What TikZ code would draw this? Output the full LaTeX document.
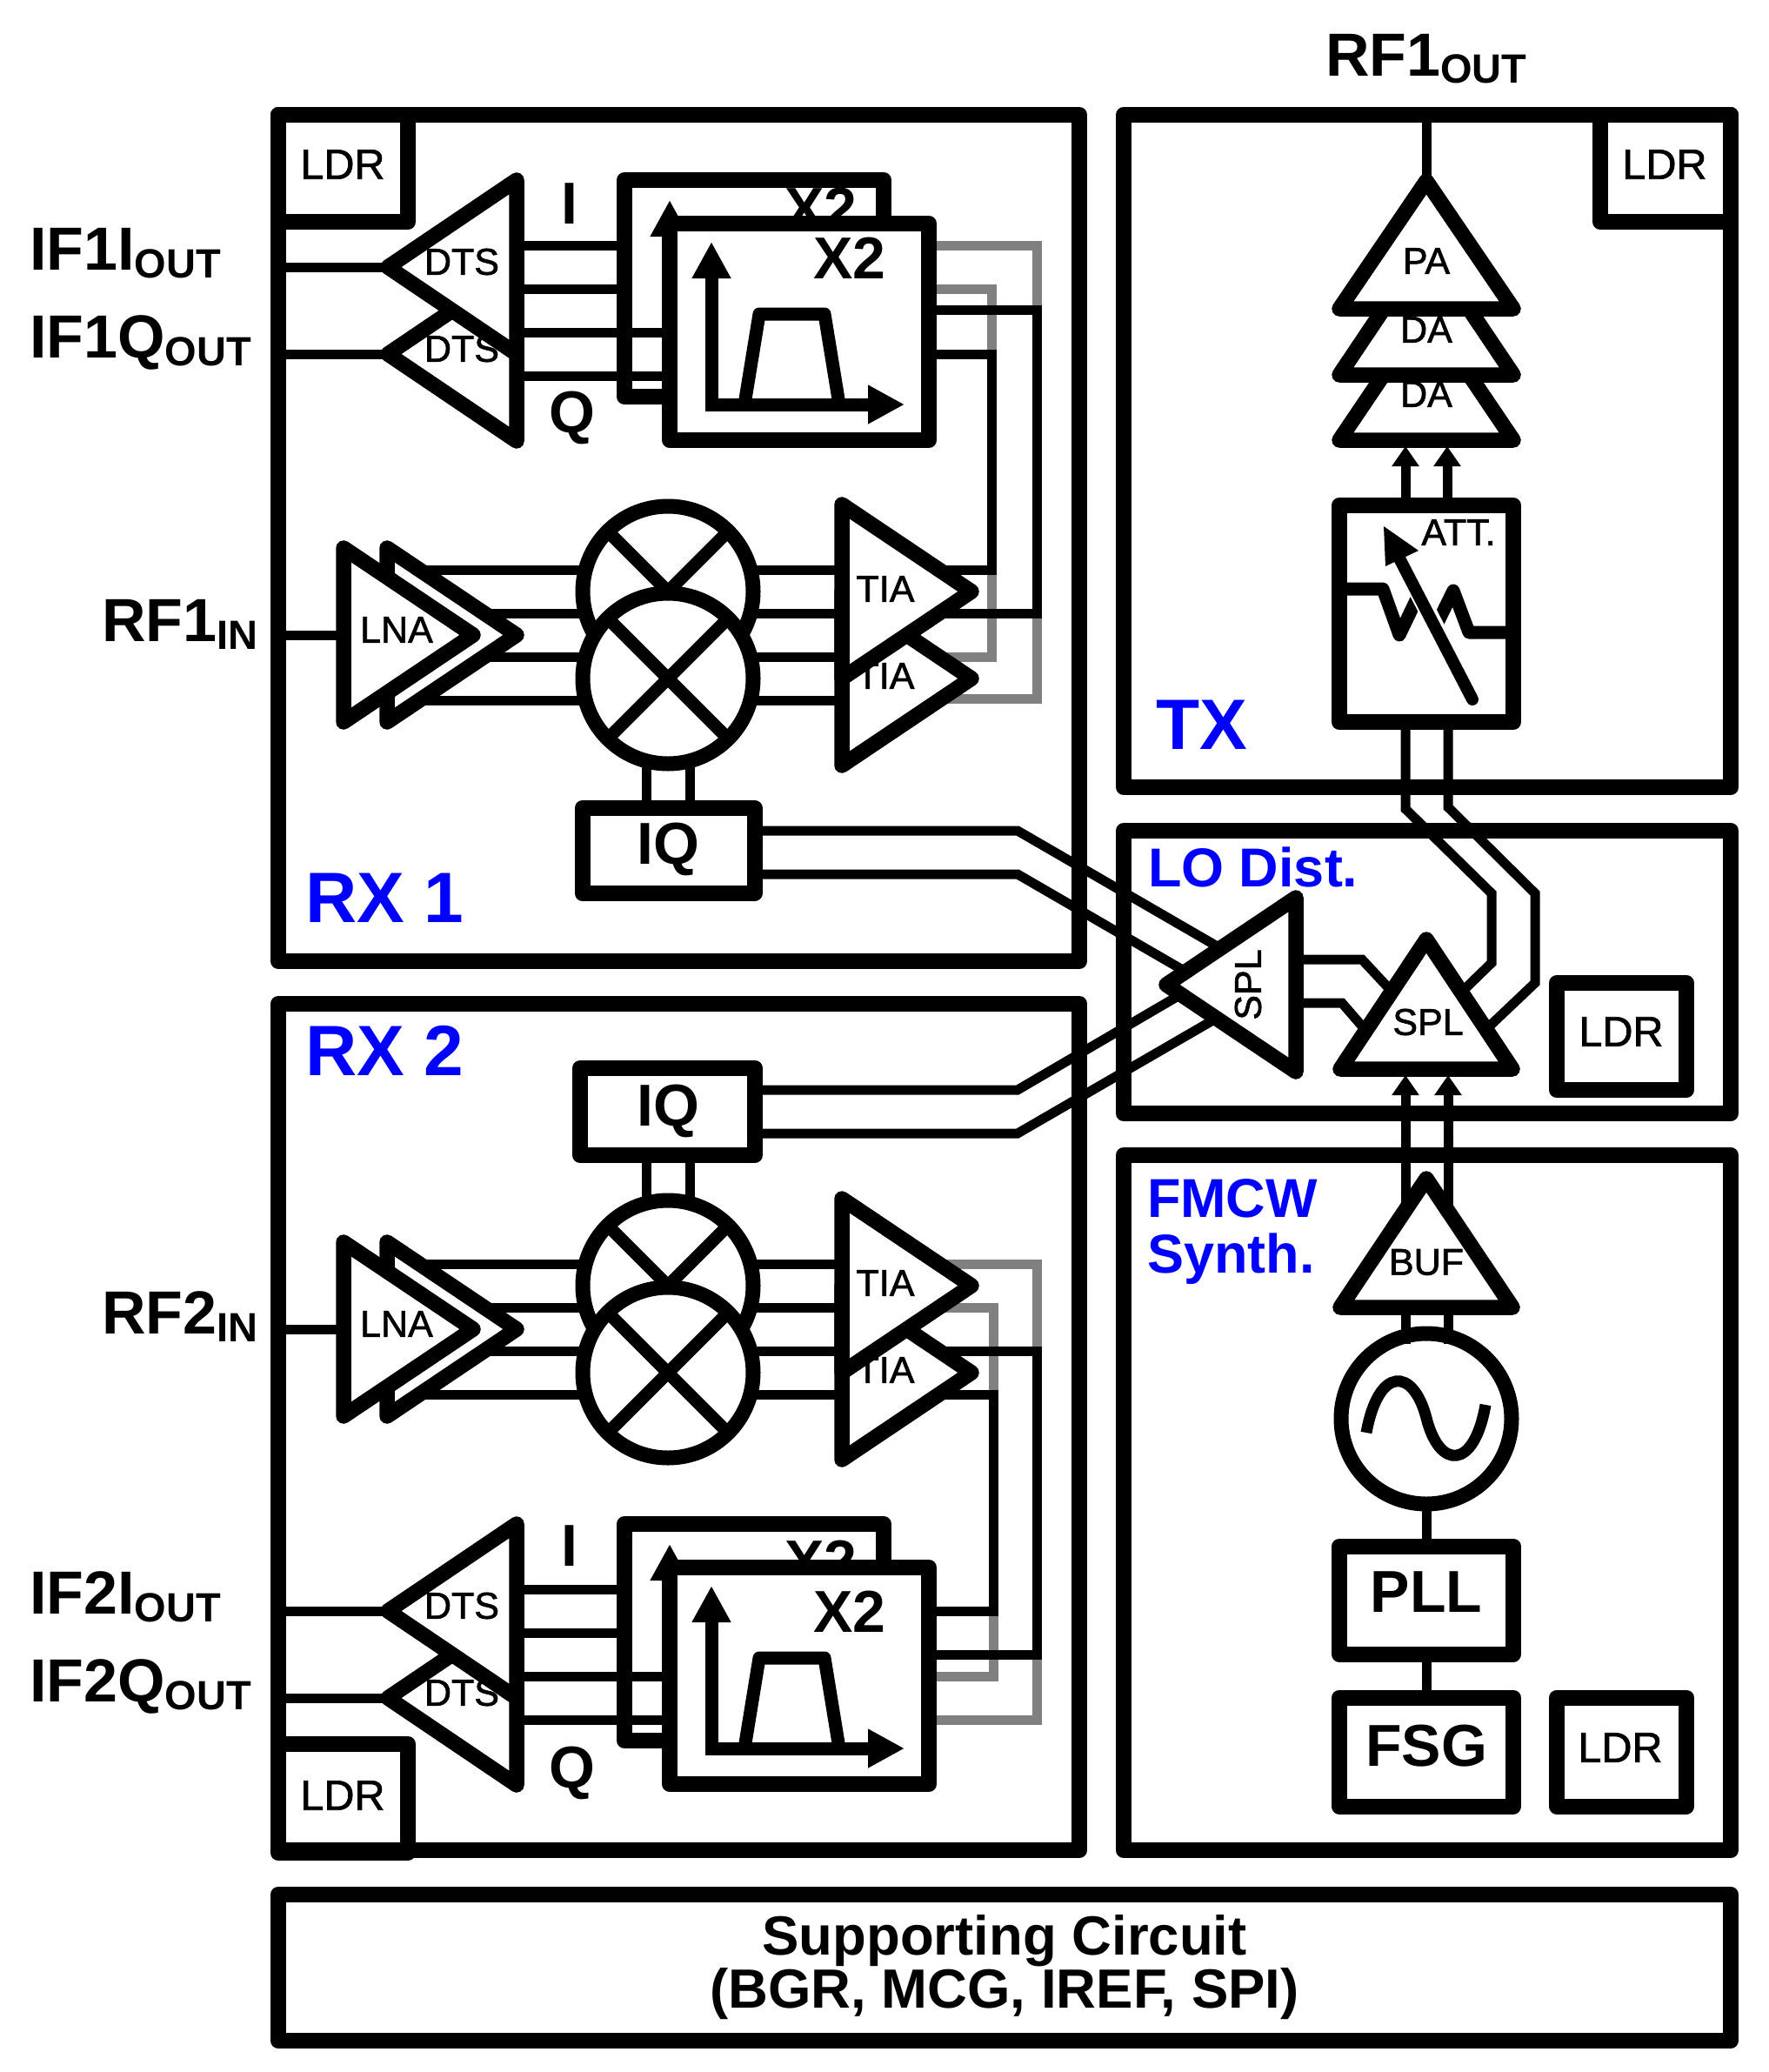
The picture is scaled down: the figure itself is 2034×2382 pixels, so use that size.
\documentclass[tikz,border=0pt]{standalone}
\usepackage{fontspec}
\setmainfont{Liberation Sans}
\newfontfamily\heavyish[FakeBold=1.5]{Liberation Sans}
\usetikzlibrary{arrows.meta,calc}
\newcommand\fs[1]{\fontsize{#1}{#1}\selectfont}
\definecolor{wiregray}{HTML}{808080}
\definecolor{lblue}{HTML}{0000FF}
\tikzset{
  bigbox/.style={draw,rectangle,line width=18pt,line join=round,inner sep=0pt,outer sep=0pt},
  minibox/.style={draw,fill=white,rectangle,line width=18pt,line join=round,inner sep=0pt,outer sep=0pt},
  mixer/.style={draw,fill=white,circle,line width=17pt,minimum size=196pt,inner sep=0pt,outer sep=0pt},
  tri/.style={draw,fill=white,line width=17.5pt,line join=round},
  wire/.style={draw=black,line width=11pt,line join=miter},
  gwire/.style={draw=wiregray,line width=11pt,line join=miter},
  xbar/.style={draw=black,line width=14.5pt},
  lab/.style={inner sep=0pt,outer sep=0pt,font=\heavyish\fs{43}},
  ldrlab/.style={inner sep=0pt,outer sep=0pt,font=\heavyish\fs{48.5}},
  blab/.style={inner sep=0pt,outer sep=0pt,font=\bfseries\fs{68}},
  pinlab/.style={inner sep=0pt,outer sep=0pt,anchor=base west,font=\bfseries\fs{70}},
  bluelab/.style={inner sep=0pt,outer sep=0pt,anchor=base west,text=lblue},
  headed/.style={-{Triangle[length=23pt,width=30pt]}},
  axesbase/.style={draw=black,line width=15pt,line join=miter},
  axes/.style={axesbase,{Triangle[length=42pt,width=42pt]}-{Triangle[length=42pt,width=42pt]}},
  axisup/.style={axesbase,{Triangle[length=42pt,width=42pt]}-},
  passband/.style={draw=black,line width=15pt,line join=round}
}
% one filter pair (back and front box), its DTS pair and all their wires
\newcommand\rxfilter[6]{%
 \begin{scope}[shift={(0,#2)}]
  \coordinate (#1dtsI) at (446,307);
  \coordinate (#1dtsQ) at (446,407);
  \path[wire] (#1dtsI -| #1box.west) -- (#1dtsI);
  \path[wire] (#1dtsQ -| #1box.west) -- (#1dtsQ);
  \coordinate (#1a) at (594,282); \coordinate (#1b) at (594,332);
  \coordinate (#1c) at (594,382); \coordinate (#1d) at (594,432);
  \path[wire] (#1a) -- (718,282);
  \path[wire] (#1b) -- (718,332);
  \node[minibox,minimum width=298pt,minimum height=249pt] (#1back) at (867,331.5) {};
  \node[blab] (#1backx) at (944,#3) {X2};
  \coordinate (#1bt) at (770,230); \coordinate (#1bc) at (770,300);
  \path[axisup] (#1bt) -- (#1bc);
  \path[wire] (#1c) -- (770,382);
  \path[wire] (#1d) -- (770,432);
  \node[minibox,minimum width=298pt,minimum height=249pt] (#1front) at (919,381.5) {};
  \node[blab] (#1frontx) at (977,#4) {X2};
  \coordinate (#1at) at (818,278); \coordinate (#1ac) at (818,465); \coordinate (#1ar) at (1040,465);
  \path[axes] (#1at) -- (#1ac) -- (#1ar);
  \path[passband] (856,465) -- (873,361) -- (948,361) -- (965,465);
  \path[tri] (#1dtsQ) -- (594,307) -- (594,507) -- cycle;
  \node[lab] (#1dq) at (531,401) {DTS};
  \path[tri] (#1dtsI) -- (594,207) -- (594,407) -- cycle;
  \node[lab] (#1di) at (531,301) {DTS};
 \end{scope}
 \node[blab] (#1ilab) at (655,#5) {I};
 \node[blab] (#1qlab) at (658,#6) {Q};
}
% LNA pair, mixer pair and TIA pair of one receiver
\newcommand\rxcore[2]{%
 \begin{scope}[shift={(0,#2)}]
  \coordinate (#1in) at (395,730);
  \path[wire] (#1in -| #1box.west) -- (#1in);
  \foreach \n/\y in {p/655,q/705,r/755,s/805}{
    \coordinate (#1\n L) at (460,\y);
    \coordinate (#1\n R) at (975,\y);
    \path[wire] (#1\n L) -- (#1\n R);
  }
  \path[tri] (445,630) -- (594,730) -- (445,830) -- cycle;
  \path[tri] (395,630) -- (544,730) -- (395,830) -- cycle;
  \node[lab] (#1lna) at (456,724) {LNA};
  \path[tri] (968,680) -- (1117,780) -- (968,880) -- cycle;
  \node[lab] (#1tq) at (1018,777) {TIA};
  \path[tri] (968,580) -- (1117,680) -- (968,780) -- cycle;
  \node[lab] (#1ti) at (1018,677) {TIA};
  \node[mixer] (#1mi) at (768,680) {};
  \path[xbar] (#1mi.45) -- (#1mi.225) (#1mi.135) -- (#1mi.315);
  \node[mixer] (#1mq) at (768,780) {};
  \path[xbar] (#1mq.45) -- (#1mq.225) (#1mq.135) -- (#1mq.315);
 \end{scope}
}
\begin{document}
\begin{tikzpicture}[x=1pt,y=-1pt]
\useasboundingbox (0,0) rectangle (2034,2382);
% outer blocks
\node[bigbox,minimum width=921pt,minimum height=973pt] (rxabox) at (780.5,618.5) {};
\node[bigbox,minimum width=921pt,minimum height=973pt] (rxbbox) at (780.5,1640.5) {};
\node[bigbox,minimum width=698pt,minimum height=773pt] (tx) at (1641,518.5) {};
\node[bigbox,minimum width=698pt,minimum height=325pt] (lo) at (1641,1117.5) {};
\node[bigbox,minimum width=698pt,minimum height=799pt] (fm) at (1641,1727.5) {};
\node[bigbox,minimum width=1670pt,minimum height=168pt] (sup) at (1155,2262) {};
\node[inner sep=0pt,anchor=base,font=\bfseries\fs{63.5}] (supa) at (1155,2247) {Supporting Circuit};
\node[inner sep=0pt,anchor=base,font=\bfseries\fs{63.5}] (supb) at (1155,2308) {(BGR, MCG, IREF, SPI)};
% LDR blocks
\node[minibox,fill=none,minimum width=149pt,minimum height=123pt] (ldra) at (394.5,193.5) {};
\node[ldrlab] (ldrat) at (394,189) {LDR};
\node[minibox,fill=none,minimum width=150pt,minimum height=123pt] (ldrb) at (1915,193.5) {};
\node[ldrlab] (ldrbt) at (1914,189) {LDR};
\node[minibox,minimum width=149pt,minimum height=123pt] (ldrc) at (1864.5,1191.5) {};
\node[ldrlab] (ldrct) at (1864,1186) {LDR};
\node[minibox,minimum width=149pt,minimum height=125pt] (ldrd) at (1864.5,2014) {};
\node[ldrlab] (ldrdt) at (1863,2009) {LDR};
\node[minibox,fill=none,minimum width=149pt,minimum height=125pt] (ldre) at (394.5,2067.5) {};
\node[ldrlab] (ldret) at (394,2064) {LDR};
% gray and black filter outputs, RX 1
\coordinate (ga1) at (1068,282); \coordinate (gb1) at (1192,282); \coordinate (gc1) at (1192,803); \coordinate (gd1) at (1080,803);
\coordinate (ga2) at (1068,332); \coordinate (gb2) at (1140,332); \coordinate (gc2) at (1140,755); \coordinate (gd2) at (1080,755);
\path[gwire] (ga1) -- (gb1) -- (gc1) -- (gd1);
\path[gwire] (ga2) -- (gb2) -- (gc2) -- (gd2);
\coordinate (ka1) at (1068,356); \coordinate (kb1) at (1192,356); \coordinate (kc1) at (1192,705); \coordinate (kd1) at (1080,705);
\coordinate (ka2) at (1068,407); \coordinate (kb2) at (1140,407); \coordinate (kc2) at (1140,655); \coordinate (kd2) at (1080,655);
\path[wire] (ka1) -- (kb1) -- (kc1) -- (kd1);
\path[wire] (ka2) -- (kb2) -- (kc2) -- (kd2);
% gray and black filter outputs, RX 2
\coordinate (ga3) at (1068,1977); \coordinate (gb3) at (1192,1977); \coordinate (gc3) at (1192,1453); \coordinate (gd3) at (1080,1453);
\coordinate (ga4) at (1068,1927); \coordinate (gb4) at (1142,1927); \coordinate (gc4) at (1142,1503); \coordinate (gd4) at (1080,1503);
\path[gwire] (ga3) -- (gb3) -- (gc3) -- (gd3);
\path[gwire] (ga4) -- (gb4) -- (gc4) -- (gd4);
\coordinate (ka3) at (1068,1902); \coordinate (kb3) at (1192,1902); \coordinate (kc3) at (1192,1553); \coordinate (kd3) at (1080,1553);
\coordinate (ka4) at (1068,1852); \coordinate (kb4) at (1142,1852); \coordinate (kc4) at (1142,1603); \coordinate (kd4) at (1080,1603);
\path[wire] (ka3) -- (kb3) -- (kc3) -- (kd3);
\path[wire] (ka4) -- (kb4) -- (kc4) -- (kd4);
% IQ blocks and their links to the mixers
\node[minibox,minimum width=198pt,minimum height=98pt] (iqa) at (768.5,978) {};
\node[blab] (iqat) at (768,976) {IQ};
\node[minibox,minimum width=201pt,minimum height=100pt] (iqb) at (767.5,1278) {};
\node[blab] (iqbt) at (768,1277) {IQ};
\coordinate (aloA) at (743,840); \coordinate (aloB) at (793,840);
\coordinate (bloA) at (743,1420); \coordinate (bloB) at (793,1420);
\path[wire] (aloA) -- (aloA |- iqa.north);
\path[wire] (aloB) -- (aloB |- iqa.north);
\path[wire] (bloA) -- (bloA |- iqb.south);
\path[wire] (bloB) -- (bloB |- iqb.south);
% receivers
\rxcore{rxa}{0}
\rxcore{rxb}{798}
\rxfilter{rxa}{0}{240}{297}{234}{480}
\rxfilter{rxb}{1545}{250}{308}{1777}{2038}
% LO routing to the left SPL
\coordinate (la1) at (1170,955); \coordinate (la2) at (1410,1094);
\coordinate (lb1) at (1170,1005); \coordinate (lb2) at (1365,1118);
\coordinate (lc1) at (1170,1253); \coordinate (lc2) at (1365,1139);
\coordinate (ld1) at (1170,1303); \coordinate (ld2) at (1410,1164);
\path[wire] (iqa.east |- la1) -- (la1) -- (la2);
\path[wire] (iqa.east |- lb1) -- (lb1) -- (lb2);
\path[wire] (iqb.east |- lc1) -- (lc1) -- (lc2);
\path[wire] (iqb.east |- ld1) -- (ld1) -- (ld2);
% TX chain
\coordinate (pa) at (1640,208);
\coordinate (taL) at (1616,513); \coordinate (taR) at (1664,513);
\coordinate (ma1) at (1616,930); \coordinate (mb1) at (1715,1027); \coordinate (mc1) at (1715,1107); \coordinate (md1) at (1680,1141);
\coordinate (ma2) at (1665,928); \coordinate (mb2) at (1765,1027); \coordinate (mc2) at (1765,1130); \coordinate (md2) at (1707,1185);
\path[wire] (pa |- tx.north) -- (pa);
\node[minibox,minimum width=200pt,minimum height=249pt] (att) at (1640,705.5) {};
\path[wire,headed] (att.north -| taL) -- (taL);
\path[wire,headed] (att.north -| taR) -- (taR);
\path[wire] (att.south -| ma1) -- (ma1) -- (mb1) -- (mc1) -- (md1);
\path[wire] (att.south -| ma2) -- (ma2) -- (mb2) -- (mc2) -- (md2);
\path[tri] (1640,358) -- (1740,506) -- (1540,506) -- cycle;
\node[lab] (da2) at (1640,453) {DA};
\path[tri] (1640,282) -- (1740,431) -- (1540,431) -- cycle;
\node[lab] (da1) at (1640,379) {DA};
\path[tri] (pa) -- (1740,355) -- (1540,355) -- cycle;
\node[lab] (patxt) at (1640,300) {PA};
\node[lab] (atxt) at (1677,612) {ATT.};
\path[draw=black,line width=15pt,line join=round] (att.west |- 0,677) -- (1590,677) -- (1609,730) -- (1632,682) -- (1650,722) -- (1671,679) -- (1689,727) -- (att.east |- 0,727);
\path[draw=white,line width=20pt] (1611,643) -- (1680,778);
\path[draw=black,line width=14pt,line cap=round] (1608,640) -- (1693,804);
\path[fill=black] (1591,605) -- (1631,633) -- (1593,651) -- cycle;
% LO block
\coordinate (sa1) at (1566,1103); \coordinate (sa2) at (1606,1146);
\coordinate (sb1) at (1543,1153); \coordinate (sb2) at (1575,1190);
\path[wire] (1490,1103) -- (sa1) -- (sa2);
\path[wire] (1490,1153) -- (sb1) -- (sb2);
\path[tri] (1341,1132) -- (1490,1032) -- (1490,1232) -- cycle;
\node[lab,rotate=90] (spla) at (1435,1132) {SPL};
\coordinate (arL) at (1616,1236); \coordinate (arR) at (1665,1236);
\coordinate (buL) at (1616,1400); \coordinate (buR) at (1665,1400);
\path[wire,headed] (buL) -- (arL);
\path[wire,headed] (buR) -- (arR);
\path[tri] (1640,1080) -- (1739,1229) -- (1541,1229) -- cycle;
\node[lab] (splb) at (1642,1175) {SPL};
% synthesiser
\node[mixer] (osc) at (1640,1631) {};
\path[draw=black,line width=13pt] (1571,1647) .. controls (1585,1570) and (1625,1572) .. (1640,1630) .. controls (1655,1690) and (1695,1690) .. (1708,1615);
\path[wire] (1616,1500) -- (1616,1545);
\path[wire] (1665,1500) -- (1665,1545);
\path[tri] (1640,1355) -- (1739,1503) -- (1541,1503) -- cycle;
\node[lab] (buf) at (1640,1451) {BUF};
\node[minibox,minimum width=200pt,minimum height=124pt] (pll) at (1640,1839.5) {};
\node[blab] (pllt) at (1640,1830.5) {PLL};
\node[minibox,minimum width=200pt,minimum height=125pt] (fsg) at (1640,2014) {};
\node[blab] (fsgt) at (1640,2007.5) {FSG};
\path[wire] (osc.south) -- (pll.north);
\path[wire] (pll.south) -- (fsg.north);
% pin labels
\newcommand\pin[5]{\node[pinlab] (#1) at (#2,#3) {#4\raisebox{-9pt}{\fs{47}#5}};}
\pin{pout}{1524}{87}{RF1}{OUT}
\pin{pa}{34}{310}{IF1I}{OUT}
\pin{pb}{34}{411}{IF1Q}{OUT}
\pin{pc}{117}{737}{RF1}{IN}
\pin{pd}{117}{1533}{RF2}{IN}
\pin{pe}{34}{1855}{IF2I}{OUT}
\pin{pf}{34}{1956}{IF2Q}{OUT}
% blue titles
\node[bluelab,font=\bfseries\fs{82}] (trxa) at (351,1060) {RX 1};
\node[bluelab,font=\bfseries\fs{82}] (trxb) at (351,1236) {RX 2};
\node[bluelab,font=\bfseries\fs{82}] (ttx) at (1329,861) {TX};
\node[bluelab,font=\bfseries\fs{63}] (tlo) at (1320,1019) {LO Dist.};
\node[bluelab,font=\bfseries\fs{63}] (tfa) at (1319,1399) {FMCW};
\node[bluelab,font=\bfseries\fs{63}] (tfb) at (1319,1463) {Synth.};
\end{tikzpicture}
\end{document}
